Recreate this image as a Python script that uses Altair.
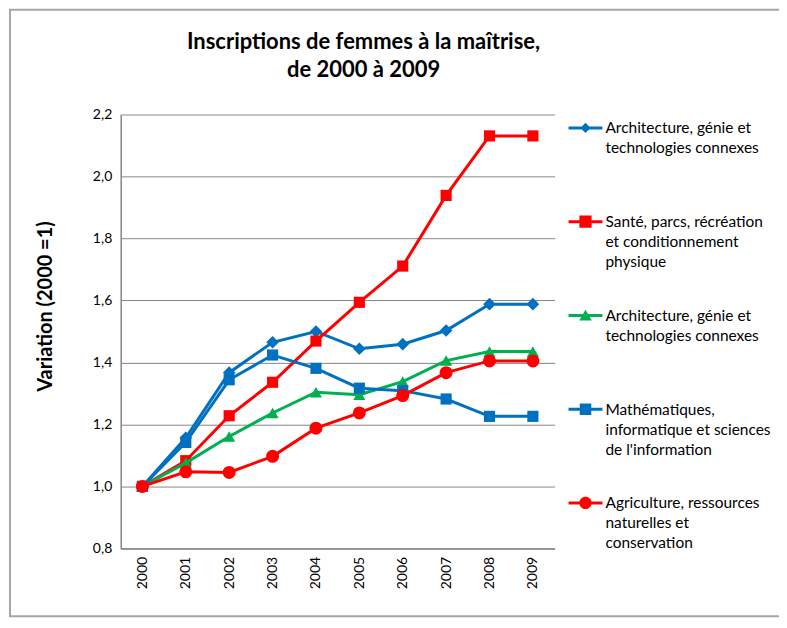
import altair as alt
import pandas as pd

years = [2000, 2001, 2002, 2003, 2004, 2005, 2006, 2007, 2008, 2009]

keys = ["s1", "s2", "s3", "s4", "s5"]
labels = [
    ["Architecture, génie et", "technologies connexes"],
    ["Santé, parcs, récréation", "et conditionnement", "physique"],
    ["Architecture, génie et", "technologies connexes"],
    ["Mathématiques,", "informatique et sciences", "de l'information"],
    ["Agriculture, ressources", "naturelles et", "conservation"],
]
colors = ["#0070C0", "#FF0000", "#00B050", "#0070C0", "#FF0000"]
markers = ["diamond", "square", "triangle-up", "square", "circle"]
marker_sizes = [160, 125, 150, 125, 170]

s1 = [1.0, 1.157, 1.367, 1.465, 1.500, 1.444, 1.459, 1.503, 1.588, 1.588]
s2 = [1.0, 1.083, 1.228, 1.336, 1.469, 1.594, 1.711, 1.939, 2.131, 2.131]
s3 = [1.0, 1.076, 1.161, 1.237, 1.304, 1.296, 1.338, 1.406, 1.435, 1.435]
s4 = [1.0, 1.142, 1.344, 1.424, 1.381, 1.317, 1.309, 1.282, 1.226, 1.226]
s5 = [1.0, 1.047, 1.045, 1.097, 1.188, 1.237, 1.293, 1.367, 1.405, 1.405]
series = [s1, s2, s3, s4, s5]

y_ticks = [0.8, 1.0, 1.2, 1.4, 1.6, 1.8, 2.0, 2.2]

rows = []
for k, vals in zip(keys, series):
    for yr, v in zip(years, vals):
        rows.append({"key": k, "year": str(yr), "value": v})
df = pd.DataFrame(rows)
legend_df = pd.DataFrame({"key": keys})

# legend symbols: line segment + marker (custom paths, shifted down so they
# line up with the first line of each multi-line label)
S = 0.38
line_p = f"M-1,{S-0.09:.2f}H1V{S+0.09:.2f}H-1Z"
legend_paths = [
    line_p + f"M0,{S-0.3:.2f}L0.3,{S:.2f}L0,{S+0.3:.2f}L-0.3,{S:.2f}Z",
    line_p + f"M-0.36,{S-0.36:.2f}H0.36V{S+0.36:.2f}H-0.36Z",
    line_p + f"M0,{S-0.34:.2f}L0.37,{S+0.3:.2f}H-0.37Z",
    line_p + f"M-0.34,{S-0.34:.2f}H0.34V{S+0.34:.2f}H-0.34Z",
    line_p + f"M-0.36,{S:.2f}A0.36,0.36 0 1,1 0.36,{S:.2f}A0.36,0.36 0 1,1 -0.36,{S:.2f}Z",
]

FONT = "Lato"

label_expr = " : ".join(
    f"datum.value == '{k}' ? [{', '.join(repr(t) for t in lab)}]"
    for k, lab in zip(keys, labels)
) + " : ''"

color_scale = alt.Scale(domain=keys, range=colors)

x_enc = alt.X(
    "year:O",
    sort=[str(y) for y in years],
    scale=alt.Scale(type="point", padding=0.5),
    axis=alt.Axis(
        title=None, labelAngle=-90, labelFontSize=14, labelColor="#000",
        labelFont=FONT, ticks=False, tickSize=0, labelPadding=8,
        domainColor="#868686", domainWidth=1.5, grid=False,
    ),
)
y_enc = alt.Y(
    "value:Q",
    scale=alt.Scale(domain=[0.8, 2.2], nice=False, zero=False),
    axis=alt.Axis(
        values=y_ticks,
        labelExpr="replace(format(datum.value, '.1f'), '.', ',')",
        title="Variation (2000 =1)", titleFontSize=20, titleFont=FONT,
        titleFontWeight="bold", titleColor="#000",
        titleAngle=-90, titleX=-75, titleY=192, titleAlign="center",
        titleBaseline="middle",
        labelFontSize=14, labelFont=FONT, labelColor="#000",
        ticks=False, tickSize=0, labelPadding=9,
        domainColor="#868686", domainWidth=1.5,
        gridColor="#868686", gridWidth=1,
    ),
)

frame = alt.Chart(pd.DataFrame({"f": [0]})).mark_rect(
    fillOpacity=0, stroke="#A6A6A6", strokeWidth=2
).encode(
    x=alt.value(-111), x2=alt.value(700), y=alt.value(-105), y2=alt.value(503)
)

series_layers = []
for k, c, m, sz in zip(keys, colors, markers, marker_sizes):
    base = alt.Chart(df).transform_filter(alt.datum.key == k).encode(x=x_enc, y=y_enc)
    series_layers.append(base.mark_line(strokeWidth=3, color=c))
    series_layers.append(
        base.mark_point(filled=True, opacity=1, shape=m, size=sz, color=c)
    )

leg = alt.Legend(
    title=None, orient="none", legendX=449, legendY=-10,
    symbolSize=1156, symbolOpacity=1, symbolStrokeWidth=0,
    labelExpr=label_expr, labelFont=FONT, labelFontSize=15.5, labelColor="#000",
    labelBaseline="top", labelOffset=3, labelLimit=300,
    gridAlign="all", rowPadding=21, padding=0,
)

legend_layer = alt.Chart(legend_df).mark_point(filled=True, opacity=0).encode(
    color=alt.Color("key:N", scale=color_scale, legend=leg),
    shape=alt.Shape("key:N", scale=alt.Scale(domain=keys, range=legend_paths), legend=leg),
)

chart = alt.layer(frame, *series_layers, legend_layer).properties(
    width=435, height=435,
    title=alt.Title(
        text=["Inscriptions de femmes à la maîtrise,", "de 2000 à 2009"],
        font=FONT, fontSize=22, fontWeight="bold", color="#000",
        anchor="middle", frame="group", dx=26, offset=-73, lineHeight=28,
    ),
    autosize=alt.AutoSizeParams(type="none"),
    padding={"left": 113, "top": 106, "right": 225, "bottom": 70},
).configure(
    background="white",
    view={"stroke": "transparent"},
    style={"guide-label": {"lineHeight": 20}},
)

chart.save("out.html", embed_options={"renderer": "svg", "actions": False})
